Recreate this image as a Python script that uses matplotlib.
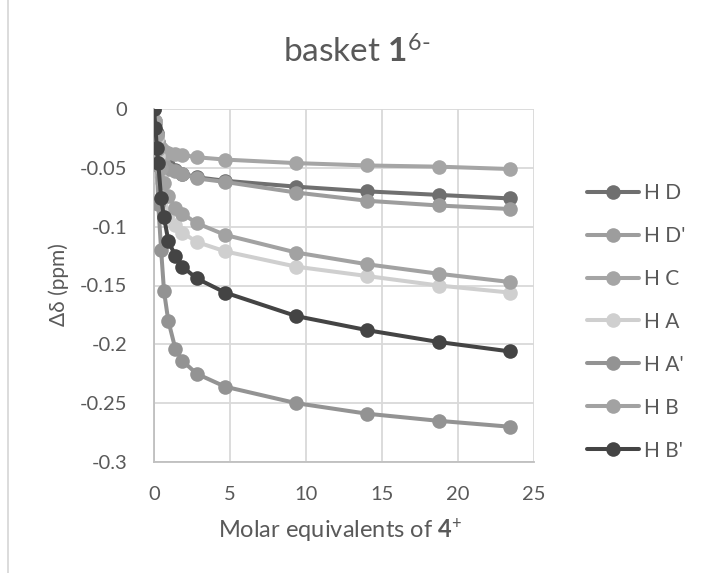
import matplotlib
matplotlib.use("Agg")
import matplotlib.pyplot as plt
from matplotlib.lines import Line2D

plt.rcParams['font.family'] = ['Lato', 'DejaVu Sans']
plt.rcParams['axes.unicode_minus'] = False
plt.rcParams['mathtext.fontset'] = 'custom'
plt.rcParams['mathtext.rm'] = 'Lato'
plt.rcParams['mathtext.bf'] = 'Lato:bold'
plt.rcParams['mathtext.it'] = 'Lato:italic'

# Molar equivalents of guest added
equiv = [0, 0.094, 0.19, 0.28, 0.47, 0.66, 0.94, 1.41, 1.87, 2.81,
         4.68, 9.36, 14.04, 18.72, 23.4]

# Chemical shift changes (ppm) per proton
h_d = [0, -0.010, -0.020, -0.028, -0.038, -0.044, -0.048, -0.052, -0.055, -0.058,
       -0.061, -0.066, -0.070, -0.073, -0.076]
h_d2 = [0, -0.012, -0.024, -0.033, -0.042, -0.048, -0.051, -0.053, -0.055, -0.059,
        -0.062, -0.071, -0.078, -0.082, -0.085]
h_c = [0, -0.012, -0.022, -0.028, -0.033, -0.036, -0.037, -0.038, -0.039, -0.041,
       -0.043, -0.046, -0.048, -0.049, -0.051]
h_a = [0, -0.010, -0.025, -0.040, -0.060, -0.075, -0.089, -0.099, -0.105, -0.113,
       -0.121, -0.134, -0.142, -0.150, -0.156]
h_a2 = [0, -0.021, -0.048, -0.081, -0.120, -0.155, -0.180, -0.204, -0.214, -0.225,
        -0.236, -0.250, -0.259, -0.265, -0.270]
h_b = [0, -0.010, -0.022, -0.034, -0.050, -0.063, -0.074, -0.084, -0.089, -0.097,
       -0.107, -0.122, -0.132, -0.140, -0.147]
h_b2 = [0, -0.016, -0.033, -0.046, -0.076, -0.092, -0.112, -0.125, -0.134, -0.144,
        -0.156, -0.176, -0.188, -0.198, -0.206]

labels = ["H D", "H D'", "H C", "H A", "H A'", "H B", "H B'"]
series = [h_d, h_d2, h_c, h_a, h_a2, h_b, h_b2]
colors = ["#6f6f6f", "#9d9d9d", "#a5a5a5", "#cfcfcf", "#939393", "#a2a2a2", "#444444"]

x_ticks = [0, 5, 10, 15, 20, 25]
y_ticks = [0, -0.05, -0.1, -0.15, -0.2, -0.25, -0.3]
y_ticklabels = ["0", "-0.05", "-0.1", "-0.15", "-0.2", "-0.25", "-0.3"]

W, H = 705, 573
fig = plt.figure(figsize=(W / 100, H / 100), dpi=100)
ax = fig.add_axes([154 / W, 1 - 462 / H, (534 - 154) / W, (462 - 109) / H])

text_col = "#595959"
for vals, lab, col in zip(series, labels, colors):
    ax.plot(equiv, vals, color=col, lw=2.9, marker='o', markersize=10.5,
            markeredgewidth=0, label=lab, solid_capstyle='round', zorder=3)

ax.set_xlim(0, 25)
ax.set_ylim(-0.3, 0)
ax.set_xticks(x_ticks)
ax.set_yticks(y_ticks)
ax.set_yticklabels(y_ticklabels)
ax.tick_params(length=0, labelsize=14.5, labelcolor=text_col)
ax.tick_params(axis='y', pad=19)
ax.tick_params(axis='x', pad=17)
ax.grid(True, color="#d9d9d9", lw=1.3, zorder=0)
ax.set_axisbelow(True)
for s in ['top', 'right']:
    ax.spines[s].set_visible(False)
for s in ['left', 'bottom']:
    ax.spines[s].set_color("#bfbfbf")
    ax.spines[s].set_linewidth(1.3)

fig.text(357 / W, 1 - 52 / H, r"basket $\mathbf{1}^{\text{6-}}$", ha='center', va='center',
         fontsize=24, color=text_col)
fig.text(340 / W, 1 - 531 / H, r"Molar equivalents of $\mathbf{4}^{+}$", ha='center', va='center',
         fontsize=17, color=text_col)
fig.text(59 / W, 1 - 285 / H, "Δδ (ppm)", ha='center', va='center', rotation=90,
         fontsize=15, color=text_col)

fig.legend(loc='upper left', bbox_to_anchor=(587 / W, 1 - 183 / H), frameon=False,
           fontsize=15, labelcolor=text_col, handlelength=2.5, handletextpad=0.25,
           labelspacing=1.1, borderpad=0, borderaxespad=0)

# chart-area border on the left edge
fig.add_artist(Line2D([8 / W, 8 / W], [0, 1], color="#d9d9d9", lw=1.3,
                      transform=fig.transFigure))

fig.savefig("out.png", dpi=100)
